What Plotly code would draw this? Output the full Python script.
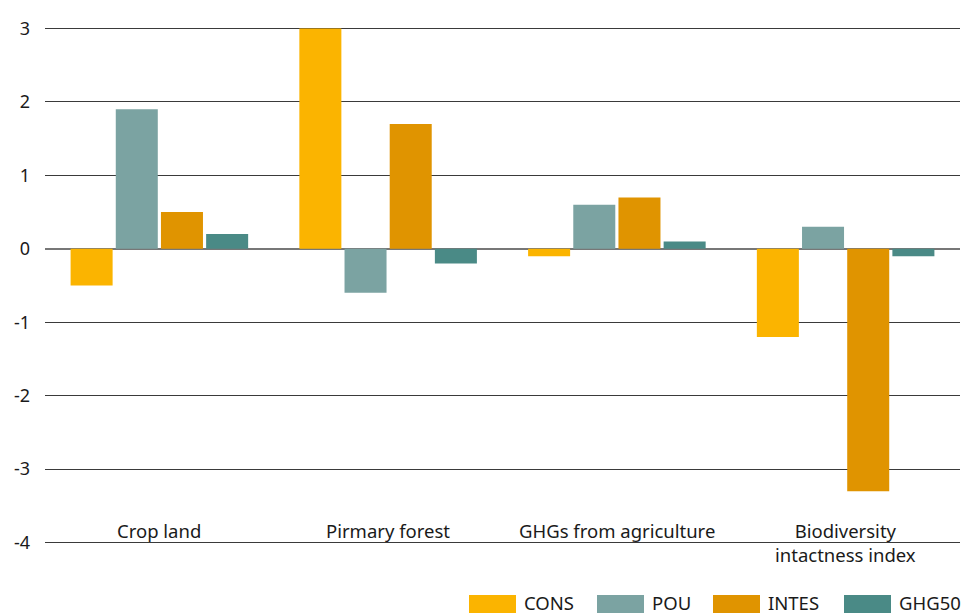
import plotly.graph_objects as go

categories = ["Crop land", "Pirmary forest", "GHGs from agriculture", "Biodiversity<br>intactness index"]
series_names = ["CONS", "POU", "INTES", "GHG50"]
cons = [-0.5, 3.0, -0.1, -1.2]
pou = [1.9, -0.6, 0.6, 0.3]
intes = [0.5, 1.7, 0.7, -3.3]
ghg50 = [0.2, -0.2, 0.1, -0.1]
y_ticks = [-4, -3, -2, -1, 0, 1, 2, 3]
y_tick_labels = ["-4", "-3", "-2", "-1", "0", "1", "2", "3"]

colors = ["#FBB400", "#7BA3A2", "#E09400", "#4A8A86"]
values = [cons, pou, intes, ghg50]

W, H = 964, 614
ML, MR, MT, MB = 45, 4, 27, 70
PW, PH = W - ML - MR, H - MT - MB

FONT = "Noto Sans"
fig = go.Figure()
for name, vals, col in zip(series_names, values, colors):
    fig.add_trace(go.Bar(x=categories, y=vals, name=name, showlegend=False,
                         marker=dict(color=col, line=dict(width=0))))

for c in categories:
    fig.add_annotation(x=c, y=-3.64, xref="x", yref="y", text=c, showarrow=False,
                       yanchor="top", xanchor="center",
                       font=dict(family=FONT, size=18.5, color="#1a1a1a"))

# manual legend with wide swatches (pixel layout converted to paper coords)
def px(x):
    return (x - ML) / PW

def py(y):
    return (H - MB - y) / PH

legend_swatch_left = [469, 597, 713, 844]
for name, col, x0 in zip(series_names, colors, legend_swatch_left):
    fig.add_shape(type="rect", xref="paper", yref="paper",
                  x0=px(x0), x1=px(x0 + 47), y0=py(613), y1=py(595),
                  fillcolor=col, line=dict(width=0))
    fig.add_annotation(xref="paper", yref="paper", x=px(x0 + 54), y=py(602.5),
                       text=name, showarrow=False, xanchor="left", yanchor="middle",
                       borderpad=0,
                       font=dict(family=FONT, size=18.5, color="#1a1a1a"))

fig.update_layout(
    width=W, height=H,
    margin=dict(l=ML, r=MR, t=MT, b=MB, autoexpand=False),
    paper_bgcolor="white", plot_bgcolor="white",
    barmode="group", bargap=0.21, bargroupgap=0.07,
    font=dict(family=FONT, size=18, color="#1a1a1a"),
    showlegend=False,
)
fig.update_xaxes(showticklabels=False, showgrid=False, zeroline=False, showline=False)
fig.update_yaxes(range=[-4.02, 3.02], tickvals=y_ticks, ticktext=y_tick_labels,
                 automargin=False,
                 showgrid=True, gridcolor="#3a3a3a", gridwidth=1,
                 zeroline=True, zerolinecolor="#777777", zerolinewidth=2,
                 showline=False, ticks="", ticklabelstandoff=14,
                 tickfont=dict(family=FONT, size=18, color="#1a1a1a"))

fig.write_html("out.html", config={"displayModeBar": False},
               post_script="document.body.style.margin='0';document.body.style.overflow='hidden';")
